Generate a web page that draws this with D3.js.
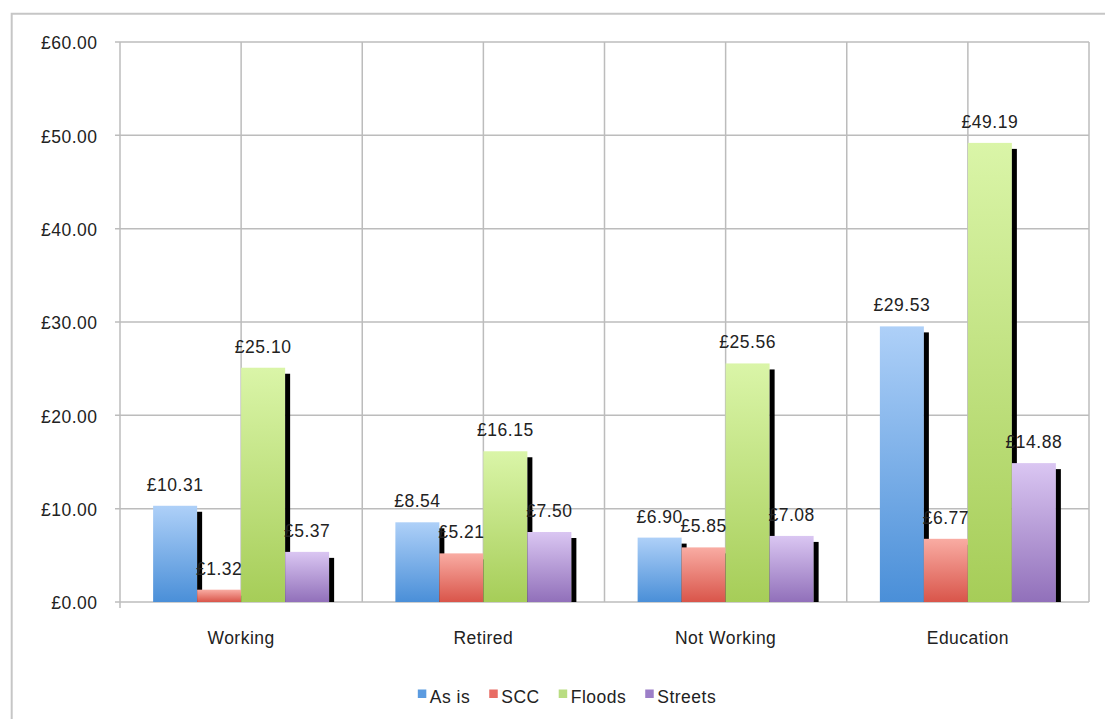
<!DOCTYPE html>
<html>
<head>
<meta charset="utf-8">
<script src="https://cdn.jsdelivr.net/npm/d3@7/dist/d3.min.js"></script>
<style>
html,body{margin:0;padding:0;background:#fff;}
svg{display:block;font-family:"Liberation Sans",Arial,Helvetica,sans-serif;}
svg text{letter-spacing:0.5px;}
</style>
</head>
<body>
<svg id="chart" width="1105" height="719"></svg>
<script>
const categories = ["Working", "Retired", "Not Working", "Education"];
const seriesNames = ["As is", "SCC", "Floods", "Streets"];
const asIs    = [10.31, 8.54, 6.90, 29.53];
const scc     = [1.32, 5.21, 5.85, 6.77];
const floods  = [25.10, 16.15, 25.56, 49.19];
const streets = [5.37, 7.50, 7.08, 14.88];
const yTicks  = [0, 10, 20, 30, 40, 50, 60];

const seriesValues = [asIs, scc, floods, streets];
const colors = [
  {top:"#aed0f8", bot:"#4a8fd8", key:"#5b9be0"},
  {top:"#f9aca3", bot:"#d9554a", key:"#e86c64"},
  {top:"#daf5a8", bot:"#a6cd58", key:"#b9dd82"},
  {top:"#dac6f2", bot:"#9170ba", key:"#9c7fc8"}
];

const svg = d3.select("#chart");
const fontSize = 17.5;
const plot = {left:120, right:1089, top:42, bottom:602};

// outer frame
svg.append("path").attr("d", "M11.7,719 L11.7,13.7 L1105,13.7")
  .attr("fill","none").attr("stroke","#c6c6c6").attr("stroke-width",2);

const x0 = d3.scaleBand().domain(categories).range([plot.left, plot.right]).paddingInner(0).paddingOuter(0);
const bw = x0.bandwidth();
const groupW = 176;
const x1 = d3.scaleBand().domain(seriesNames).range([(bw-groupW)/2, (bw+groupW)/2]).padding(0);
const y = d3.scaleLinear().domain([0, 60]).range([plot.bottom, plot.top]);

// gradients
const defs = svg.append("defs");
colors.forEach((c,i)=>{
  const g = defs.append("linearGradient").attr("id","g"+i).attr("x1",0).attr("y1",0).attr("x2",0).attr("y2",1);
  g.append("stop").attr("offset","0%").attr("stop-color",c.top);
  g.append("stop").attr("offset","100%").attr("stop-color",c.bot);
});

const gridColor = "#bcbcbc";
// horizontal gridlines
svg.append("g").selectAll("line").data(yTicks).join("line")
  .attr("x1", plot.left-5).attr("x2", plot.right)
  .attr("y1", d=>y(d)).attr("y2", d=>y(d))
  .attr("stroke", gridColor).attr("stroke-width",1.5);
// vertical gridlines
const vx = [];
categories.forEach(c=>{ vx.push(x0(c)); vx.push(x0(c)+bw/2); });
vx.push(plot.right);
svg.append("g").selectAll("line").data(vx).join("line")
  .attr("x1", d=>d).attr("x2", d=>d)
  .attr("y1", plot.top).attr("y2", plot.bottom)
  .attr("stroke", gridColor).attr("stroke-width",1.5);
// small tick below axis
svg.append("line").attr("x1",plot.left).attr("x2",plot.left).attr("y1",plot.bottom).attr("y2",plot.bottom+6)
  .attr("stroke",gridColor).attr("stroke-width",1.5);

// y tick labels
svg.append("g").selectAll("text").data(yTicks).join("text")
  .attr("x", 97.5).attr("y", d=>y(d)).attr("dy","0.42em")
  .attr("text-anchor","end").attr("font-size",fontSize).attr("fill","#222")
  .text(d=>"£"+d.toFixed(2));

// bars
const groups = svg.append("g").selectAll("g").data(categories).join("g")
  .attr("transform", c=>`translate(${x0(c)},0)`);
groups.each(function(c, ci){
  const g = d3.select(this);
  seriesNames.forEach((s, si)=>{
    const v = seriesValues[si][ci];
    const bx = x1(s), w = x1.bandwidth();
    g.append("rect").attr("x", bx).attr("y", y(v)).attr("width", w).attr("height", y(0)-y(v))
      .attr("fill", `url(#g${si})`);
    g.append("rect").attr("x", bx+w).attr("y", y(v)+6).attr("width", 5).attr("height", Math.max(0, y(0)-y(v)-6))
      .attr("fill", "#000");
  });
});
// value labels
groups.each(function(c, ci){
  const g = d3.select(this);
  seriesNames.forEach((s, si)=>{
    const v = seriesValues[si][ci];
    g.append("text").attr("x", x1(s)+x1.bandwidth()/2).attr("y", y(v)-15)
      .attr("text-anchor","middle").attr("font-size",fontSize).attr("fill","#222")
      .text("£"+v.toFixed(2));
  });
});

// category labels
svg.append("g").selectAll("text").data(categories).join("text")
  .attr("x", c=>x0(c)+bw/2).attr("y", 644)
  .attr("text-anchor","middle").attr("font-size",fontSize).attr("fill","#222")
  .text(c=>c);

// legend
const leg = svg.append("g");
let lx = 0;
seriesNames.forEach((s,i)=>{
  const t = leg.append("text").attr("font-size",fontSize).attr("fill","#222").text(s);
  const tw = t.node().getComputedTextLength();
  t.attr("x", lx+12).attr("y", 703);
  leg.append("rect").attr("x", lx).attr("y", 689.5).attr("width", 8.5).attr("height", 8.5).attr("fill", colors[i].key);
  lx += 12 + tw + 19;
});
const totalW = lx - 19;
leg.attr("transform", `translate(${567 - totalW/2},0)`);
</script>
</body>
</html>
